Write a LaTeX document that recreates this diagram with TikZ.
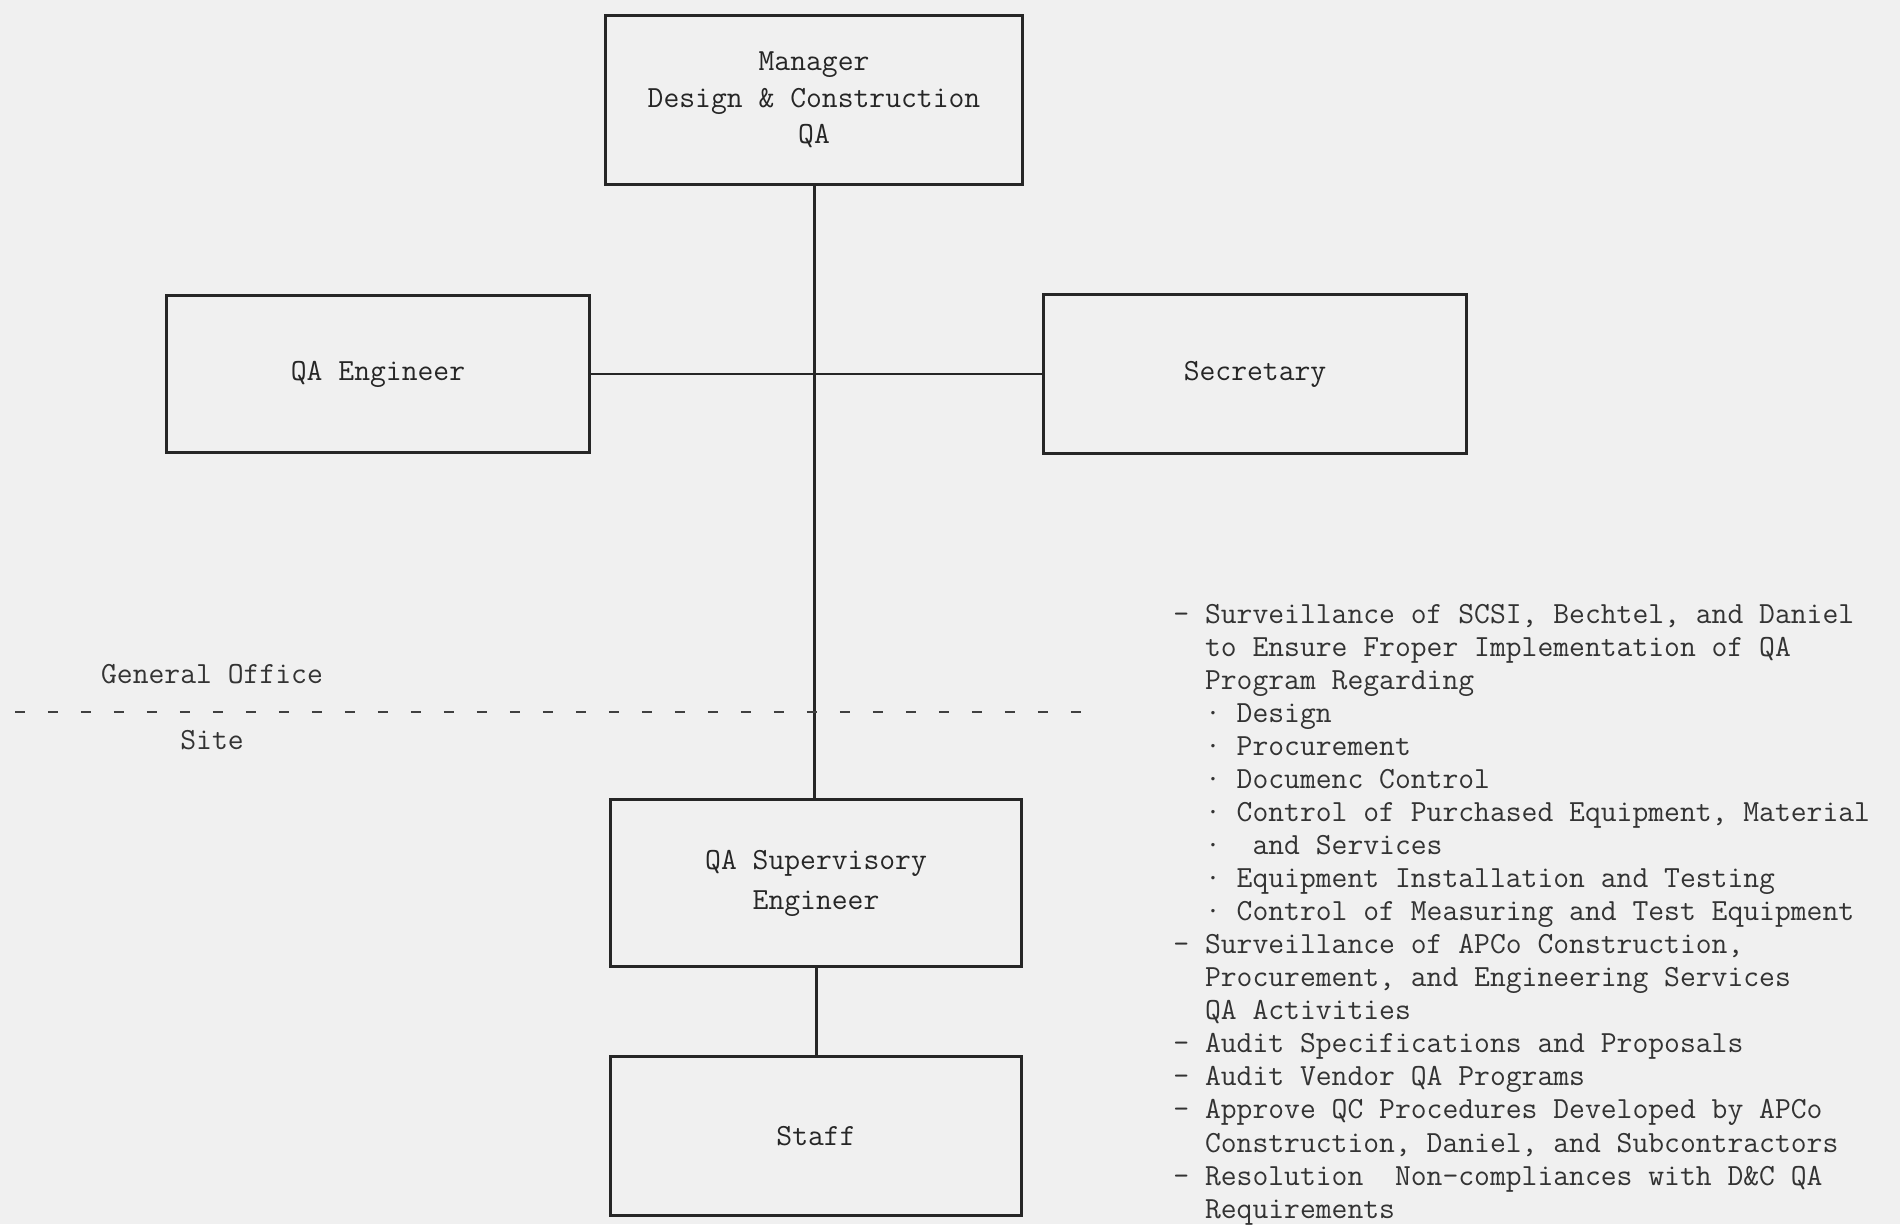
\documentclass[tikz,border=0pt]{standalone}
\usepackage{xcolor}
\usepackage{tikz}
\usetikzlibrary{positioning}

\begin{document}
\begin{tikzpicture}[
    x=0.02cm, y=-0.02cm,
    % Define simple, standard styles
    orgbox/.style={rectangle, draw=black!85, line width=1.7pt, align=center, minimum width=8.3cm, minimum height=3.25cm, font=\typed, text=black!85},
    link/.style={line width=1.7pt, draw=black!85},
    divider/.style={line width=1.5pt, draw=black!75, dash pattern=on 0.2cm off 0.46cm},
    note/.style={font=\typed, text=black!80, inner sep=0pt}
]
\def\typed{\ttfamily\fontsize{17.5}{18.8}\selectfont}

% Background sheet
\fill[black!6] (0,0) rectangle (1900,1224);
\useasboundingbox (0,0) rectangle (1900,1224);

% 1. Top Node: The Manager
\node[orgbox, minimum width=8.36cm, minimum height=3.4cm] (mgr) at (814, 100) {Manager \\[2pt] Design \& Construction \\[2pt] QA};

% 2. Middle Nodes: Engineer and Secretary
\node[orgbox, minimum width=8.46cm, minimum height=3.16cm] (qaeng) at (378, 374) {QA Engineer};
\node[orgbox, minimum width=8.48cm, minimum height=3.2cm] (sec) at (1255, 374) {Secretary};

% 3. Site Nodes
\node[orgbox, minimum width=8.22cm, minimum height=3.34cm] (sup) at (816, 883) {QA Supervisory \\[4pt] Engineer};
\node[orgbox, minimum width=8.22cm, minimum height=3.18cm, below=1.74cm of sup] (staff) {Staff};

% Draw the connecting lines
\draw[link] (qaeng) -- (sec);
\draw[link] (mgr.south) -- (mgr.south |- sup.north);
\draw[link] (sup.south) -- (sup.south |- staff.north);

% Office / site boundary
\coordinate (divL) at (15, 712);
\coordinate (divR) at (1087, 712);
\draw[divider] (divL) -- (divR);
\node[note] (office) at (212, 674) {General Office};
\node[note] (site) at (212, 740) {Site};

% Duties of the site QA group
\node[note, anchor=north west, align=left] (duties) at (1173, 604) {%
- Surveillance of SCSI, Bechtel, and Daniel \\
~~to Ensure Froper Implementation of QA \\
~~Program Regarding \\
~~· Design \\
~~· Procurement \\
~~· Documenc Control \\
~~· Control of Purchased Equipment, Material \\
~~·~~and Services \\
~~· Equipment Installation and Testing \\
~~· Control of Measuring and Test Equipment \\
- Surveillance of APCo Construction, \\
~~Procurement, and Engineering Services \\
~~QA Activities \\
- Audit Specifications and Proposals \\
- Audit Vendor QA Programs \\
- Approve QC Procedures Developed by APCo \\
~~Construction, Daniel, and Subcontractors \\
- Resolution~~Non-compliances with D\&C QA \\
~~Requirements};

\end{tikzpicture}
\end{document}
